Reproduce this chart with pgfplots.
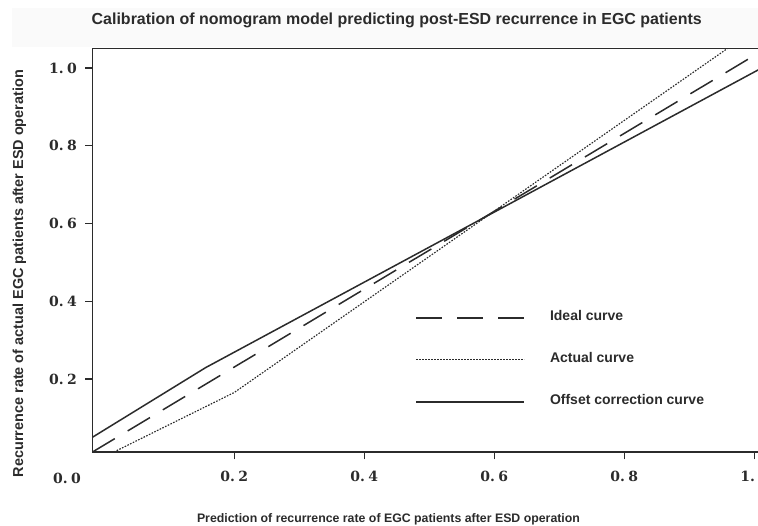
\documentclass[border=0pt]{standalone}
\usepackage{pgfplots}
\pgfplotsset{compat=1.18}
\usepackage{fontspec}
\setmainfont{Liberation Sans}
\newfontfamily\tickfont{DejaVu Serif}
\definecolor{ink}{HTML}{2B2B2B}
\newcommand{\lgd}[1]{\fontsize{14}{16}\selectfont\bfseries #1}
\newcommand{\tl}[2]{#1.\hspace{3.5pt}#2}
\begin{document}
\begin{tikzpicture}
\fill[black!2] (12pt,479pt) rectangle (758pt,518pt);
\begin{axis}[
  at={(92.5pt,74pt)}, anchor=south west,
  scale only axis, width=684.5pt, height=403.3pt,
  xmin=-0.018, xmax=1.035, ymin=0.012, ymax=1.0495,
  axis line style={ink, line width=1.5pt},
  tick style={ink, line width=1.3pt},
  tick align=outside,
  major tick length=7.5pt,
  xtick={0.2,0.4,0.6,0.8,1.0},
  xticklabels={\tl02,\tl04,\tl06,\tl08,\tl10},
  ytick={0.2,0.4,0.6,0.8,1.0},
  yticklabels={\tl02,\tl04,\tl06,\tl08,\tl10},
  xtick pos=bottom, ytick pos=left,
  tick label style={font=\tickfont\bfseries\fontsize{14}{16}\selectfont, text=ink},
  xticklabel style={yshift=-8pt},
  yticklabel style={xshift=-4.5pt},
  clip=true,
  legend style={draw=none, fill=none, at={(axis cs:0.474,0.3755)}, anchor=north west,
    text=ink,
    nodes={inner sep=0pt, text height=8pt, text depth=2pt},
    row sep=32pt},
  legend cell align=left,
  legend image code/.code={\draw[#1] (0pt,0pt) -- (108pt,0pt); \path (133pt,0pt);},
]
\addplot[ink, line width=1.5pt, dash pattern=on 26pt off 15pt] coordinates {(-0.018,0.012) (1.035,1.067)};
\addlegendentry{\lgd{Ideal curve}}
\addplot[ink, line width=1.15pt, dash pattern=on 1.6pt off 1.4pt] coordinates {(0.015,0.012) (0.2,0.165) (0.96,1.0515)};
\addlegendentry{\lgd{Actual curve}}
\addplot[ink, line width=1.5pt] coordinates {(-0.018,0.05) (0.156,0.229) (1.035,1.021)};
\addlegendentry{\lgd{Offset correction curve}}
\end{axis}
\node[text=ink, font=\tickfont\bfseries\fontsize{14}{16}\selectfont] at (67pt,48pt) {\tl00};
\node[text=ink, inner sep=0pt] at (396.7pt,506pt) {\resizebox{610pt}{!}{\bfseries Calibration of nomogram model predicting post-ESD recurrence in EGC patients}};
\node[text=ink, inner sep=0pt] at (388.5pt,7pt) {\resizebox{383pt}{!}{\bfseries Prediction of recurrence rate of EGC patients after ESD operation}};
\node[text=ink, inner sep=0pt, rotate=90] at (19.5pt,252.5pt) {\resizebox{407pt}{!}{\bfseries Recurrence rate of actual EGC patients after ESD operation}};
\pgfresetboundingbox
\useasboundingbox (0,0) rectangle (758pt,526pt);
\end{tikzpicture}
\end{document}
